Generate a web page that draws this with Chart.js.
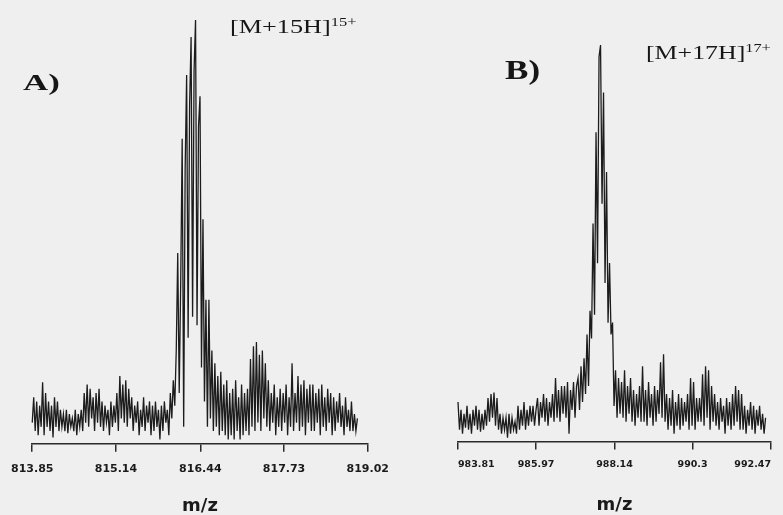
<!DOCTYPE html>
<html>
<head>
<meta charset="utf-8">
<script src="https://cdn.jsdelivr.net/npm/chart.js@4.4.1/dist/chart.umd.min.js"></script>
<style>
  html, body { margin:0; padding:0; }
  body { width:783px; height:515px; overflow:hidden; position:relative; background:#efefef; }
  canvas { position:absolute; top:0; }
  #cA { left:0; }
  #cB { left:400px; }
  .lab { position:absolute; font-family:'Liberation Serif','Times New Roman',serif; color:#161616; line-height:1; white-space:nowrap; transform-origin:left top; }
  .sup { position:relative; top:-7px; font-size:12px; }
</style>
</head>
<body>
<canvas id="cA" width="400" height="515"></canvas>
<canvas id="cB" width="400" height="515"></canvas>
<div class="lab" style="left:23px;top:70px;font-size:24px;font-weight:bold;transform:scaleX(1.45);">A)</div>
<div class="lab" style="left:230px;top:17px;font-size:19px;transform:scaleX(1.38);">[M+15H]<span class="sup">15+</span></div>
<div class="lab" style="left:505px;top:57px;font-size:27px;font-weight:bold;transform:scaleX(1.3);">B)</div>
<div class="lab" style="left:646px;top:43px;font-size:19px;transform:scaleX(1.36);">[M+17H]<span class="sup">17+</span></div>
<script>
// ---- Panel A data (intensity in % of base peak, sampled evenly over mzRangeA) ----
const ticksA = [813.85, 815.14, 816.44, 817.73, 819.02];
const tickLabelsA = ['813.85', '815.14', '816.44', '817.73', '819.02'];
const mzRangeA = [813.85, 818.86];
const intensityA = [
  5, 11, 3, 10, 2, 9, 4, 14.5, 2, 12, 4, 10, 3, 9, 1.5, 11, 4, 10, 3, 8, 4,
  7, 3, 8, 2.5, 7, 4, 6, 3, 8, 2, 7, 4, 8,
  3, 12, 5, 14, 4, 13, 6, 11, 3, 12, 5, 13, 4,
  10, 3, 9, 5, 8, 2, 10, 4, 9, 5,
  12, 3, 16, 6, 14, 5, 15, 4, 13, 6,
  11, 3, 9, 5, 10, 2, 8, 4, 11, 3, 9, 5, 10,
  2, 9, 3, 10, 4, 8, 1, 9, 3, 10, 5, 8,
  2, 12, 6, 15, 9, 22, 45, 12, 38, 72, 4, 65, 87, 25, 80, 96, 30, 88, 100, 28, 75,
  82, 18, 53, 10, 34, 4, 34, 6, 22, 3, 19, 4, 16, 2, 17, 3, 14, 2, 15, 1, 12,
  2, 13, 1, 15, 3, 11, 1, 14, 2, 12, 3, 13, 2,
  20, 4, 23, 3, 24, 5, 21, 3, 22, 6, 19, 4,
  15, 3, 12, 5, 14, 2, 11, 4, 13, 3, 12, 5, 14, 2, 11,
  4, 19, 3, 12,
  5, 16, 3, 14, 4, 15, 2, 13, 5, 14, 3,
  14, 3, 12, 5, 13, 2, 14, 4, 11, 3, 13, 5, 12, 2, 11,
  3, 10, 5, 12, 4, 9, 2, 11, 4, 8, 3, 10,
  3, 7, 3, 6
];

// ---- Panel B data ----
const ticksB = [983.81, 985.97, 988.14, 990.3, 992.47];
const tickLabelsB = ['983.81', '985.97', '988.14', '990.3', '992.47'];
const mzRangeB = [983.81, 992.32];
const intensityB = [
  10, 3, 8, 2, 7, 3.5, 9, 3, 7, 2, 8, 4, 9, 3, 8, 2.5, 7, 3, 8, 4,
  11, 5, 12, 6, 12.4, 4, 11,
  3, 7, 2, 6, 3, 6, 1, 7, 2, 6, 3, 5, 2,
  9, 3, 8, 4, 10, 3, 8, 4, 9, 5, 9, 4, 8,
  11, 4, 10, 6, 12, 5, 11, 4, 10, 6, 12,
  5, 16, 6, 13, 5, 14,
  7, 14, 6, 15, 2, 13, 8, 15, 6, 14,
  16, 8, 19, 10, 21, 12, 27, 14, 33, 26, 55, 32, 78, 45, 97, 100, 60, 88, 40, 68,
  30, 45, 27, 30, 9, 18, 6, 16, 7,
  15, 6, 18, 5, 14, 7, 16,
  5, 13, 4, 12, 6, 14, 5, 19,
  5, 13, 4, 15, 6, 12, 4, 14, 5, 13,
  7, 20, 6, 22, 5,
  12, 3, 11, 4, 13, 2, 10, 4, 12, 3, 11, 4,
  10, 5, 12, 3, 16, 4, 15, 3, 11, 5,
  11, 5, 17, 4, 19, 6, 18, 3, 14, 5, 12,
  4, 10, 3, 11, 5, 9, 2, 11, 4, 10,
  3, 12, 4, 14, 5, 13, 3, 12,
  3, 9, 2, 8, 4, 10, 3, 9, 2, 8, 4, 9, 3, 7, 2, 6
];

function toPoints(range, vals) {
  const step = (range[1] - range[0]) / (vals.length - 1);
  return vals.map((v, i) => ({ x: range[0] + i * step, y: v }));
}

Chart.defaults.font.family = "'DejaVu Sans', sans-serif";

function makeChart(id, pts, ticks, labels, opt) {
  return new Chart(document.getElementById(id), {
    type: 'line',
    data: { datasets: [{ data: pts, borderColor: '#1c1c1c', borderWidth: 1.3, pointRadius: 0, tension: 0, fill: false, clip: 4 }] },
    options: {
      responsive: false, animation: false, devicePixelRatio: 1,
      layout: { padding: opt.padding },
      plugins: { legend: { display: false }, tooltip: { enabled: false } },
      scales: {
        x: {
          type: 'linear', min: ticks[0], max: ticks[ticks.length - 1],
          afterBuildTicks: s => { s.ticks = ticks.map(v => ({ value: v })); },
          grid: { display: true, drawOnChartArea: false, drawTicks: true, tickLength: 8, color: '#2a2a2a', lineWidth: 1.5 },
          border: { display: true, color: '#2a2a2a', width: 1.5 },
          ticks: { autoSkip: false, maxRotation: 0, color: '#1a1a1a', padding: opt.tickPad, align: opt.align,
                   font: { size: opt.tickSize, weight: 'bold' },
                   callback: (v, i) => labels[i] },
          title: { display: true, text: 'm/z', color: '#1a1a1a',
                   font: { size: 18, weight: 'bold', lineHeight: 1 },
                   padding: { top: opt.titleTop, bottom: opt.titleBottom } }
        },
        y: { display: false, min: 0, max: 100 }
      }
    }
  });
}

makeChart('cA', toPoints(mzRangeA, intensityA), ticksA, tickLabelsA,
  { padding: { left: 30, right: 31, top: 20, bottom: 0 }, tickPad: 11, tickSize: 11, titleTop: 10, titleBottom: 0, align: 'center' });
makeChart('cB', toPoints(mzRangeB, intensityB), ticksB, tickLabelsB,
  { padding: { left: 58, right: 29, top: 45, bottom: 0 }, tickPad: 9, tickSize: 9.5, titleTop: 17, titleBottom: 1, align: 'inner' });
</script>
</body>
</html>
